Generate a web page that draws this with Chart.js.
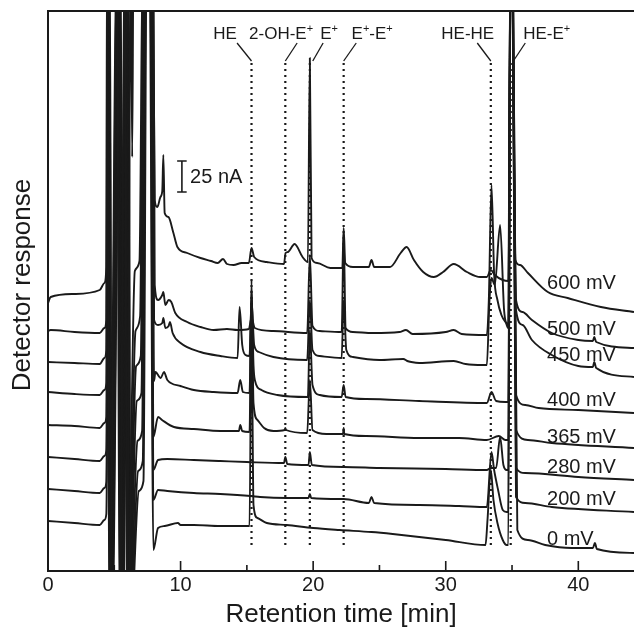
<!DOCTYPE html>
<html>
<head>
<meta charset="utf-8">
<script src="https://cdn.jsdelivr.net/npm/chart.js@4.4.1/dist/chart.umd.min.js"></script>
<style>
  html, body { margin: 0; padding: 0; background: #fff; }
  canvas { display: block; }
</style>
</head>
<body>
<canvas id="chromChart" width="634" height="632"></canvas>
<script>
'use strict';

// off-scale markers for the peaks that leave the plot
const HI = 620;
const LO = -60;

// retention time [min], detector response (plot units, 1.24 units = 1 nA)
const trace600 = [[0,268],[0.2,274],[2,277],[3.9,281],[4.25,288],[4.4,304],[4.45,HI],[4.62,LO],[5.2,HI],[5.4,LO],[5.8,HI],[5.95,LO],[6.25,HI],[6.35,414],[6.45,HI],[7.9,HI],[8.05,371],[8.25,364],[8.48,374],[8.62,380],[8.7,416],[8.8,358],[9.08,354],[9.46,338],[9.76,324],[10.5,318],[11.5,313],[12.3,310],[12.8,308],[13.2,312],[13.5,307],[14.0,306],[14.6,308],[15.15,308],[15.35,323],[15.55,314],[16.5,309],[17.8,307],[17.92,318],[18.1,319],[18.6,327],[19.2,314],[19.6,309],[19.75,513],[19.88,313],[20.3,308],[21.3,303],[22.2,303],[22.3,343],[22.42,308],[23.0,304],[24.2,304],[24.4,311],[24.6,304],[25.8,304],[26.6,318],[27.05,324],[27.6,311],[28.3,299],[29.1,294],[29.8,299],[30.6,307],[31.6,299],[32.6,294],[33.1,294],[33.4,301],[33.7,296],[34.3,291],[34.72,290],[34.88,HI],[35.02,HI],[35.25,311],[35.6,306],[36.2,298],[37.7,279],[39.2,273],[41.7,264],[44.2,259]];
const trace500 = [[0,240],[0.2,241],[2,239],[3.9,238],[4.25,243],[4.4,251],[4.48,HI],[4.65,LO],[5.24,HI],[5.44,LO],[5.84,HI],[5.99,LO],[6.55,300],[6.9,310],[7.15,HI],[7.95,HI],[8.05,286],[8.3,271],[8.62,276],[8.7,279],[8.85,266],[9.1,271],[9.3,269],[9.6,258],[10.5,249],[11.5,244],[12.5,241],[13.5,242],[14.3,241],[15.15,242],[15.35,253],[15.6,243],[17,240],[19.55,238],[19.75,316],[19.95,245],[20.5,240],[22.15,239],[22.3,336],[22.45,243],[23,239],[24.5,238],[26.5,239],[27,241],[27.5,237],[30,239],[30.6,241],[31.2,237],[33.1,236],[33.25,271],[33.45,386],[33.65,297],[33.9,271],[34.2,256],[34.5,249],[34.72,247],[34.88,HI],[35.02,HI],[35.3,271],[35.8,259],[36.5,251],[38,238],[40,231],[41.1,230],[41.2,234],[41.35,229],[44.2,223]];
const trace450 = [[0,209],[2,208],[3.9,207],[4.25,213],[4.4,221],[4.51,HI],[4.68,LO],[5.28,HI],[5.48,LO],[5.88,HI],[6.03,LO],[6.6,240],[6.95,255],[7.2,HI],[7.9,HI],[8.0,251],[8.3,246],[8.62,248],[8.7,253],[8.85,243],[9.1,245],[9.2,249],[9.4,238],[10,228],[11.5,219],[13,215],[14.3,213],[14.45,264],[14.65,226],[14.9,216],[15.2,215],[15.35,271],[15.55,226],[15.9,219],[17,214],[19.55,211],[19.75,271],[19.95,221],[20.5,215],[22.15,213],[22.3,271],[22.5,221],[23,214],[25,211],[26.8,212],[27.1,210],[27.4,209],[28,208],[30.6,210],[31.5,207],[32.8,206],[33.1,206],[33.3,271],[33.45,293],[33.7,286],[34.1,346],[34.4,261],[34.6,246],[34.72,243],[34.88,HI],[35.02,HI],[35.3,261],[35.8,246],[36.5,231],[38,216],[40,205],[41.1,204],[41.2,209],[41.35,203],[44.2,194]];
const trace400 = [[0,179],[2,177],[3.9,176],[4.25,181],[4.4,188],[4.54,HI],[4.71,LO],[5.32,HI],[5.52,LO],[5.92,HI],[6.07,LO],[6.65,205],[7.0,215],[7.25,HI],[7.85,HI],[8.0,190],[8.1,199],[8.5,193],[8.75,199],[9.0,191],[10,185],[11,181],[12.5,179],[14.3,178],[14.5,191],[14.7,179],[15.2,178],[15.35,281],[15.5,206],[15.6,191],[16.1,181],[17.3,176],[19.6,174],[19.75,241],[19.95,186],[20.5,176],[22.15,174],[22.3,186],[22.45,174],[24,172],[28,170],[33.1,168],[33.45,179],[33.8,170],[34.5,169],[34.72,169],[34.88,HI],[35.02,HI],[35.3,176],[36,166],[37,163],[40,161],[44.2,158]];
const trace365 = [[0,146],[2,145],[3.9,143],[4.25,148],[4.4,154],[4.57,HI],[4.74,LO],[5.36,HI],[5.56,LO],[5.96,HI],[6.11,LO],[6.7,170],[7.05,178],[7.3,HI],[7.8,HI],[7.95,134],[8.3,154],[8.6,151],[9.5,144],[11,142],[13,140],[14.4,140],[14.5,146],[14.65,140],[15.2,139],[15.35,291],[15.5,168],[15.8,151],[16.3,143],[17,140],[17.85,141],[17.9,143],[17.95,141],[19.55,138],[19.75,191],[19.95,141],[21,137],[22.25,137],[22.3,143],[22.35,137],[24,135],[28,133],[31,133],[33.1,131],[34.0,135],[34.5,131],[34.72,131],[34.88,HI],[35.02,HI],[35.3,141],[36.2,131],[38,128],[44.2,123]];
const trace280 = [[0,114],[2,112],[3.9,110],[4.25,115],[4.4,121],[4.6,HI],[4.77,LO],[5.4,HI],[5.6,LO],[6.0,HI],[6.15,LO],[6.75,130],[7.1,140],[7.35,HI],[7.75,HI],[7.95,101],[8.3,111],[9,112],[11,111],[13,110],[15,109],[17.8,108],[17.9,114],[18.05,107],[19.65,106],[19.75,119],[19.9,106],[22.3,104],[25,103],[30,102],[33.1,101],[33.4,103],[33.8,103],[34.1,134],[34.35,106],[34.6,101],[34.72,101],[34.88,HI],[35.02,HI],[35.3,103],[36,98],[40,94],[44.2,91]];
const trace200 = [[0,82],[2,80],[3.9,78],[4.25,83],[4.4,89],[4.63,HI],[4.8,LO],[5.44,HI],[5.64,LO],[6.04,HI],[6.19,LO],[6.8,100],[7.15,110],[7.4,HI],[7.7,HI],[7.95,71],[8.3,81],[9,80],[11,78],[13,77],[15.3,75],[16,74],[18,73],[19.65,73],[19.75,77],[19.85,73],[22.3,72],[24.2,68],[24.4,74],[24.6,68],[28,66],[31,65],[33.1,64],[33.45,119],[33.65,101],[33.95,81],[34.3,61],[34.6,59],[34.72,59],[34.88,HI],[35.02,HI],[35.3,74],[36,68],[38,64],[44.2,59]];
const trace0 = [[0,50],[2,48],[3.9,46],[4.25,51],[4.4,57],[4.66,HI],[4.83,LO],[5.48,HI],[5.68,LO],[6.08,HI],[6.23,LO],[6.85,80],[7.2,90],[7.45,HI],[7.65,HI],[7.95,21],[8.3,43],[8.8,45],[9.8,48],[10,46],[11,46],[13,45],[15.2,45],[15.35,251],[15.5,66],[15.8,53],[16.5,48],[18,46],[20,43],[22,41],[24.4,39],[26,37],[30,31],[33.0,26],[33.15,51],[33.4,101],[33.6,71],[33.9,48],[34.3,31],[34.6,26],[34.72,26],[34.88,HI],[35.02,HI],[35.4,41],[36.2,31],[37.5,26],[39.5,23],[41.1,23],[41.25,28],[41.4,22],[44.2,18]];

const traces = [trace600, trace500, trace450, trace400, trace365, trace280, trace200, trace0];
const traceNames = ['600 mV', '500 mV', '450 mV', '400 mV', '365 mV', '280 mV', '200 mV', '0 mV'];
const traceLabelLevels = [288, 242, 216, 171, 134, 104, 72, 32];

// identified peaks ('+' is written as a superscript)
const peakNames = ['HE', '2-OH-E+', 'E+', 'E+-E+', 'HE-HE', 'HE-E+'];
const peakTimes = [15.35, 17.9, 19.75, 22.3, 33.4, 34.9];
const leaderEnds = [15.35, 17.9, 19.97, 22.3, 33.4, 35.1];
const leaderStarts = [14.26, 18.79, 20.75, 23.25, 32.38, 36.0];
const peakLabelCenters = [13.36, 17.58, 21.2, 24.45, 31.66, 37.62];

const majorTicks = [0, 10, 20, 30, 40];
const minorTicks = [5, 15, 25, 35];

const FONT = '"Liberation Sans", Arial, Helvetica, sans-serif';
const INK = '#1a1a1a';

const toXY = pts => pts.map(([x, y]) => ({ x, y }));

const datasets = [];
peakTimes.forEach(t => {
    datasets.push({
        data: toXY([[t, 26], [t, 509]]),
        borderColor: INK,
        borderWidth: 2.2,
        borderDash: [2, 4],
        borderCapStyle: 'butt'
    });
});
peakTimes.forEach((t, i) => {
    datasets.push({
        data: toXY([[leaderStarts[i], 528], [leaderEnds[i], 510]]),
        borderColor: INK,
        borderWidth: 1.3
    });
});
traces.forEach(tr => {
    datasets.push({
        data: toXY(tr),
        borderColor: INK,
        borderWidth: 1.9,
        borderJoinStyle: 'round',
        cubicInterpolationMode: 'monotone'
    });
});
// 25 nA scale bar
datasets.push({
    data: [{ x: 10.1, y: 379 }, { x: 10.1, y: 410 }, { x: 10.1, y: null },
           { x: 9.74, y: 410 }, { x: 10.46, y: 410 }, { x: 10.46, y: null },
           { x: 9.74, y: 379 }, { x: 10.46, y: 379 }],
    borderColor: INK,
    borderWidth: 1.6,
    spanGaps: false
});

function drawRich(ctx, text, cx, baseY, size) {
    const parts = text.split(/(\+)/).filter(p => p !== '');
    const supSize = Math.round(size * 0.62);
    let total = 0;
    parts.forEach(p => {
        ctx.font = (p === '+' ? supSize : size) + 'px ' + FONT;
        total += ctx.measureText(p).width;
    });
    let x = cx - total / 2;
    parts.forEach(p => {
        const sup = p === '+';
        ctx.font = (sup ? supSize : size) + 'px ' + FONT;
        ctx.fillText(p, x, sup ? baseY - size * 0.42 : baseY);
        x += ctx.measureText(p).width;
    });
}

const decorations = {
    id: 'decorations',
    afterDraw(chart) {
        const { ctx, chartArea: a, scales: { x, y } } = chart;
        ctx.save();
        ctx.strokeStyle = INK;
        ctx.fillStyle = INK;

        // frame (right side runs off the figure)
        ctx.lineWidth = 2;
        ctx.beginPath();
        ctx.moveTo(chart.width, a.top);
        ctx.lineTo(a.left, a.top);
        ctx.lineTo(a.left, a.bottom);
        ctx.lineTo(chart.width, a.bottom);
        ctx.stroke();

        ctx.lineWidth = 1.6;
        ctx.beginPath();
        majorTicks.forEach(t => {
            const px = x.getPixelForValue(t);
            ctx.moveTo(px, a.bottom);
            ctx.lineTo(px, a.bottom - 10);
        });
        minorTicks.forEach(t => {
            const px = x.getPixelForValue(t);
            ctx.moveTo(px, a.bottom);
            ctx.lineTo(px, a.bottom - 6);
        });
        ctx.stroke();

        // peak labels
        ctx.textAlign = 'left';
        ctx.textBaseline = 'alphabetic';
        peakNames.forEach((name, i) => {
            drawRich(ctx, name, x.getPixelForValue(peakLabelCenters[i]), y.getPixelForValue(532), 17);
        });

        // trace labels
        ctx.font = '20px ' + FONT;
        ctx.textBaseline = 'middle';
        traceNames.forEach((name, i) => {
            ctx.fillText(name, x.getPixelForValue(37.64), y.getPixelForValue(traceLabelLevels[i]));
        });

        // scale bar text
        ctx.fillText('25 nA', x.getPixelForValue(10.72), y.getPixelForValue(394));

        // y title
        ctx.font = '26px ' + FONT;
        ctx.textAlign = 'center';
        ctx.translate(23, 285);
        ctx.rotate(-Math.PI / 2);
        ctx.fillText('Detector response', 0, 0);
        ctx.restore();
    }
};

new Chart(document.getElementById('chromChart'), {
    type: 'line',
    data: { datasets },
    options: {
        responsive: false,
        devicePixelRatio: 1,
        animation: false,
        events: [],
        parsing: { xAxisKey: 'x', yAxisKey: 'y' },
        elements: { point: { radius: 0 }, line: { tension: 0 } },
        layout: { padding: { top: 11, left: 48, right: 0, bottom: 0 } },
        plugins: { legend: { display: false }, tooltip: { enabled: false } },
        scales: {
            x: {
                type: 'linear',
                min: 0,
                max: 44.2,
                grid: { display: false, drawTicks: false },
                border: { display: false },
                ticks: {
                    stepSize: 10,
                    includeBounds: false,
                    autoSkip: false,
                    maxRotation: 0,
                    padding: 2,
                    color: INK,
                    font: { family: FONT, size: 20 }
                },
                title: {
                    display: true,
                    text: 'Retention time [min]',
                    color: INK,
                    font: { family: FONT, size: 26 },
                    padding: { top: 0, bottom: 2 }
                },
                afterFit(scale) { scale.height = 61; }
            },
            y: {
                display: false,
                min: 0,
                max: 560
            }
        }
    },
    plugins: [decorations]
});
</script>
</body>
</html>
